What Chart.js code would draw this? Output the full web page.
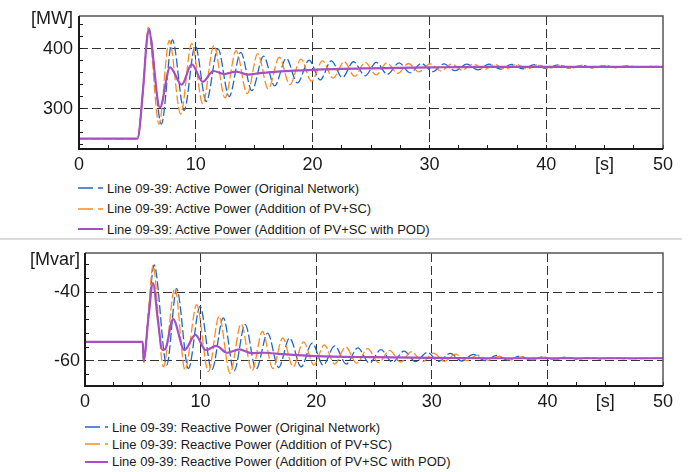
<!DOCTYPE html>
<html>
<head>
<meta charset="utf-8">
<title>Line 09-39</title>
<script src="https://cdn.jsdelivr.net/npm/chart.js@4.4.1/dist/chart.umd.min.js"></script>
<style>
  body { margin: 0; background: #fff; }
  #page { position: relative; width: 690px; height: 472px; overflow: hidden; font-family: "Liberation Sans", Arial, sans-serif; color: #1a1a1a; }
  #page canvas { position: absolute; left: 0; }
  .sep { position: absolute; left: 0; top: 238px; width: 682px; height: 2px; background: #dcdcdc; }
  .leg { position: absolute; font-size: 13px; line-height: 15px; white-space: nowrap; }
  .leg svg { position: absolute; left: 0; top: 4.5px; }
</style>
</head>
<body>
<div id="page">
  <canvas id="activeChart" width="690" height="175" style="top:0"></canvas>
  <div id="activeLegend"></div>
  <div class="sep"></div>
  <canvas id="reactiveChart" width="690" height="175" style="top:240px"></canvas>
  <div id="reactiveLegend"></div>
</div>
<script>
// axis ticks
var timeTicks = [0, 2.5, 5, 7.5, 10, 12.5, 15, 17.5, 20, 22.5, 25, 27.5, 30, 32.5, 35, 37.5, 40, 42.5, 45, 47.5, 50];
var timeLabelValues = [0, 10, 20, 30, 40, 45, 50];
var timeLabelText = ['0', '10', '20', '30', '40', '[s]', '50'];
var timeGridValues = [10, 20, 30, 40];

var activeTicks = [240, 260, 280, 300, 320, 340, 360, 380, 400, 420, 440];
var activeLabelValues = [300, 400];
var reactiveTicks = [-64, -60, -56, -52, -48, -44, -40, -36, -32];
var reactiveLabelValues = [-60, -40];

var seriesNames = ['Original Network', 'Addition of PV+SC', 'Addition of PV+SC with POD'];

// Active power [MW] - time [s] / value pairs
var activeOrigT = [0, 5.0, 5.5, 5.75, 5.97, 7.05, 8.0, 9.0, 9.95, 10.9, 11.9, 12.85, 13.85, 14.8, 15.8, 16.75, 17.75, 18.7, 19.7, 20.65, 21.6, 22.55, 23.5, 24.5, 25.45, 26.4, 27.4, 28.35, 29.3, 30.3, 31.25, 32.2, 33.2, 34.15, 35.1, 36.1, 37.05, 38.0, 39.0, 40.0, 41.0, 42.0, 43.0, 44.0, 45.0, 46.0, 47.0, 48.0, 49.0, 50];
var activeOrigV = [250, 250, 335, 400, 435, 274, 415, 297, 405, 312, 400, 320, 394, 330, 388, 338, 384, 343, 381, 348, 380, 352, 378.5, 355, 377.5, 357.5, 376.5, 360, 375.5, 362, 375, 363.5, 374.5, 365, 374.5, 366, 374, 366.5, 373.5, 367, 373, 367.5, 372.5, 368, 372, 368.5, 371.5, 369, 370.8, 370];

var activePvT = [0, 5.0, 5.5, 5.75, 5.92, 6.85, 7.73, 8.7, 9.65, 10.6, 11.55, 12.5, 13.45, 14.4, 15.3, 16.2, 17.15, 18.05, 19.0, 19.9, 20.85, 21.75, 22.7, 23.6, 24.5, 25.45, 26.35, 27.3, 28.2, 29.1, 30.05, 31.0, 31.9, 32.8, 33.75, 34.7, 35.6, 36.5, 37.45, 38.4, 39.3, 40.2, 41.2, 42.1, 43.0, 44.0, 44.9, 45.9, 46.8, 47.8, 50];
var activePvV = [250, 250, 338, 405, 436, 274, 414, 291, 409, 308, 406, 318, 397, 325, 392, 333, 386, 340, 383, 346, 380, 351, 378.5, 354, 377.5, 356.5, 376.5, 359, 375.5, 361.5, 375, 363, 374.5, 364.5, 374.5, 365.5, 374, 366, 374, 366.5, 373.5, 367, 373, 367.5, 372.5, 368, 372, 368.5, 371.5, 369, 370];

var activePodT = [0, 5.0, 5.5, 5.75, 5.95, 6.93, 7.79, 8.79, 9.65, 10.6, 11.5, 12.45, 13.45, 14.45, 15.5, 17, 20, 25, 30, 35, 50];
var activePodV = [250, 250, 336, 402, 432, 302, 369, 340, 374, 345, 363, 358, 362, 357, 359.5, 362, 365, 367.5, 369, 370, 370];

// Reactive power [Mvar]
var reactOrigT = [0, 5.0, 5.08, 5.5, 5.98, 7.07, 7.93, 8.95, 9.95, 10.97, 11.97, 12.9, 13.85, 14.8, 15.8, 16.75, 17.7, 18.7, 19.65, 20.6, 21.6, 22.6, 23.6, 24.6, 25.6, 26.6, 27.6, 28.6, 29.6, 30.6, 31.6, 32.6, 33.6, 34.6, 35.6, 36.6, 37.6, 38.6, 39.6, 40.6, 41.6, 42.6, 43.6, 44.6, 45.6, 47, 50];
var reactOrigV = [-54.4, -54.4, -60.2, -46, -32, -61.2, -38.9, -62.2, -44.1, -62.6, -47.4, -62.9, -49.3, -62.4, -51.9, -61.9, -53.3, -61.7, -54.8, -61.2, -55.6, -60.9, -56.2, -60.6, -56.7, -60.4, -57.1, -60.2, -57.5, -60.1, -57.8, -60.0, -58.1, -59.9, -58.4, -59.8, -58.6, -59.7, -58.8, -59.6, -58.9, -59.5, -59.0, -59.4, -59.1, -59.3, -59.2];

var reactPvT = [0, 5.0, 5.08, 5.5, 5.88, 6.78, 7.78, 8.65, 9.66, 10.67, 11.6, 12.55, 13.5, 14.45, 15.35, 16.25, 17.1, 18.0, 18.9, 19.8, 20.7, 21.6, 22.55, 23.5, 24.45, 25.4, 26.35, 27.3, 28.25, 29.2, 30.15, 31.1, 32.05, 33.0, 33.95, 34.9, 35.85, 36.8, 37.75, 38.7, 39.65, 40.6, 41.55, 42.5, 43.5, 44.5, 45.5, 47, 50];
var reactPvV = [-54.4, -54.4, -60.5, -45, -32.1, -61.7, -38.7, -62.6, -43.6, -63.1, -47.0, -63.6, -49.2, -62.8, -51.4, -62.2, -53.3, -61.7, -54.4, -61.2, -55.3, -60.9, -55.9, -60.6, -56.4, -60.5, -56.9, -60.3, -57.3, -60.2, -57.7, -60.1, -58.0, -59.9, -58.3, -59.8, -58.6, -59.7, -58.8, -59.6, -58.9, -59.5, -59.0, -59.4, -59.1, -59.35, -59.15, -59.25, -59.2];

var reactPodT = [0, 5.0, 5.06, 5.5, 5.88, 6.3, 6.7, 6.95, 7.62, 8.6, 9.55, 10.45, 11.35, 12.3, 13.35, 14.4, 15.5, 17, 20, 25, 30, 35, 50];
var reactPodV = [-54.4, -54.4, -59.9, -47, -37.3, -48, -56.8, -56.5, -47.8, -56.8, -52.4, -56.8, -55.6, -57.6, -56.6, -57.7, -57.6, -58.0, -58.6, -58.9, -59.1, -59.2, -59.2];

var blue = '#1f66cc', orange = '#ff8a1f', purple = '#a64fc4';
var fontFamily = '"Liberation Sans", Arial, sans-serif';

Chart.defaults.font.family = fontFamily;
Chart.defaults.color = '#1a1a1a';

function pairs(t, v) {
	return t.map(function(x, i) { return { x: x, y: v[i] }; });
}

function makeSets(quantity, t1, v1, t2, v2, t3, v3) {
	return [{
		label: 'Line 09-39: ' + quantity + ' (' + seriesNames[0] + ')',
		data: pairs(t1, v1), borderColor: blue, borderWidth: 1.3, borderDash: [9, 3], order: 2
	}, {
		label: 'Line 09-39: ' + quantity + ' (' + seriesNames[1] + ')',
		data: pairs(t2, v2), borderColor: orange, borderWidth: 1.3, borderDash: [9, 3], order: 1
	}, {
		label: 'Line 09-39: ' + quantity + ' (' + seriesNames[2] + ')',
		data: pairs(t3, v3), borderColor: purple, borderWidth: 2.2, order: 0
	}];
}

// axes frame + unit label
var panelFrame = {
	id: 'panelFrame',
	afterDatasetsDraw: function(chart, args, opts) {
		var a = chart.chartArea, ctx = chart.ctx;
		ctx.save();
		ctx.strokeStyle = '#555';
		ctx.lineWidth = 1.5;
		ctx.beginPath();
		ctx.moveTo(a.left, a.top);
		ctx.lineTo(a.right, a.top);
		ctx.lineTo(a.right, a.bottom);
		ctx.stroke();
		ctx.strokeStyle = '#1a1a1a';
		ctx.lineWidth = 2;
		ctx.beginPath();
		ctx.moveTo(a.left, a.top);
		ctx.lineTo(a.left, a.bottom);
		ctx.lineTo(a.right, a.bottom);
		ctx.stroke();
		ctx.font = '18px ' + fontFamily;
		ctx.fillStyle = '#1a1a1a';
		ctx.textAlign = 'right';
		ctx.textBaseline = 'middle';
		ctx.fillText(opts.unit, a.left - opts.gap, a.top + opts.dy);
		ctx.restore();
	}
};

function makePanel(id, datasets, yMin, yMax, yTicks, yLabels, box) {
	return new Chart(document.getElementById(id), {
		type: 'line',
		data: { datasets: datasets },
		options: {
			responsive: false,
			animation: false,
			layout: { padding: { top: box.top, right: 27, left: 0, bottom: 0 } },
			elements: { point: { radius: 0 }, line: { cubicInterpolationMode: 'monotone' } },
			plugins: {
				legend: { display: false },
				tooltip: { enabled: false },
				panelFrame: { unit: box.unit, gap: box.yPad - 4, dy: box.unitDy }
			},
			scales: {
				x: {
					type: 'linear', min: 0, max: 50,
					afterBuildTicks: function(s) { s.ticks = timeTicks.map(function(v) { return { value: v }; }); },
					afterFit: function(s) { s.height = box.xHeight; s.paddingLeft = 0; s.paddingRight = 0; },
					ticks: {
						autoSkip: false, maxRotation: 0, padding: 9, font: { size: 18 },
						callback: function(v) { var i = timeLabelValues.indexOf(v); return i < 0 ? '' : timeLabelText[i]; }
					},
					grid: {
						color: function(c) { return c.tick && timeGridValues.indexOf(c.tick.value) >= 0 ? '#333' : 'transparent'; },
						tickColor: '#1a1a1a', tickLength: -4, lineWidth: 1
					},
					border: { display: false, dash: [9, 4] }
				},
				y: {
					type: 'linear', min: yMin, max: yMax,
					afterBuildTicks: function(s) { s.ticks = yTicks.map(function(v) { return { value: v }; }); },
					afterFit: function(s) { s.width = box.yWidth; s.paddingTop = 0; s.paddingBottom = 0; },
					ticks: {
						autoSkip: false, padding: box.yPad, font: { size: 18 },
						callback: function(v) { return yLabels.indexOf(v) >= 0 ? String(v) : ''; }
					},
					grid: {
						color: function(c) { return c.tick && yLabels.indexOf(c.tick.value) >= 0 ? '#333' : 'transparent'; },
						tickColor: '#1a1a1a', tickLength: -4, lineWidth: 1
					},
					border: { display: false, dash: [9, 4] }
				}
			}
		},
		plugins: [panelFrame]
	});
}

function buildLegend(hostId, chart, rows) {
	var host = document.getElementById(hostId);
	chart.data.datasets.forEach(function(ds, i) {
		var r = rows.y[i];
		var row = document.createElement('div');
		row.className = 'leg';
		row.style.left = rows.x + 'px';
		row.style.top = (r - 7.5) + 'px';
		var dash = ds.borderDash ? ' stroke-dasharray="15 5"' : '';
		row.innerHTML = '<svg width="' + rows.len + '" height="6"><line x1="0" y1="3" x2="' + rows.len + '" y2="3" stroke="' + ds.borderColor + '" stroke-width="' + (ds.borderDash ? 1.4 : 2) + '"' + dash + '/></svg>' +
			'<span style="margin-left:' + (rows.len + 4) + 'px">' + ds.label + '</span>';
		host.appendChild(row);
	});
}

var activeChart = makePanel('activeChart',
	makeSets('Active Power', activeOrigT, activeOrigV, activePvT, activePvV, activePodT, activePodV),
	232.5, 455, activeTicks, activeLabelValues,
	{ top: 16, yWidth: 79, xHeight: 26, yPad: 10, unit: '[MW]', unitDy: 3.5 });

var reactiveChart = makePanel('reactiveChart',
	makeSets('Reactive Power', reactOrigT, reactOrigV, reactPvT, reactPvV, reactPodT, reactPodV),
	-67.3, -28.5, reactiveTicks, reactiveLabelValues,
	{ top: 13, yWidth: 85, xHeight: 29, yPad: 9, unit: '[Mvar]', unitDy: 6.7 });

buildLegend('activeLegend', activeChart, { x: 78, len: 25, y: [188, 208.5, 229] });
buildLegend('reactiveLegend', reactiveChart, { x: 85, len: 23, y: [427, 444, 461.5] });
</script>
</body>
</html>
